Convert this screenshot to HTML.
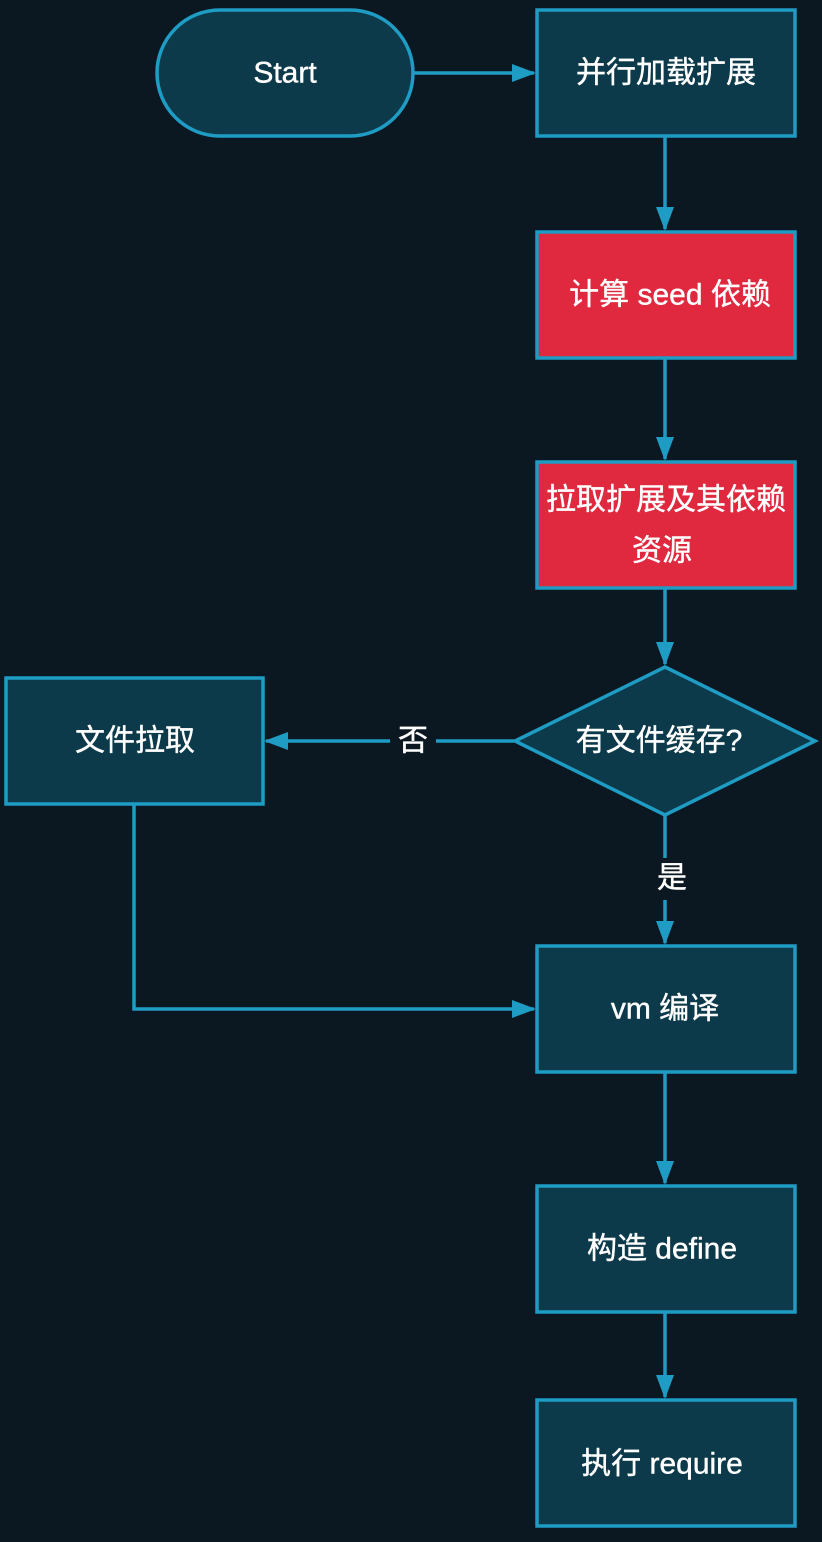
<!DOCTYPE html>
<html><head><meta charset="utf-8"><style>
html,body{margin:0;padding:0;background:#0b1822;}
</style></head><body>
<svg width="822" height="1537" viewBox="0 0 822 1537" xmlns="http://www.w3.org/2000/svg">
<rect width="822" height="1537" fill="#0b1822"/>
<defs>
<marker id="b" markerWidth="24" markerHeight="24" refX="22" refY="12" orient="auto" markerUnits="userSpaceOnUse" viewBox="0 0 24 24"><path d="M0,3 L24,12 L0,21 z" fill="#1e9cc4"/></marker></defs>
<g stroke="#1e9cc4" stroke-width="3.5" fill="none">
<line x1="414" y1="73" x2="534" y2="73" marker-end="url(#b)"/>
<line x1="665" y1="137" x2="665" y2="229" marker-end="url(#b)"/>
<line x1="665" y1="359" x2="665" y2="459" marker-end="url(#b)"/>
<line x1="665" y1="589" x2="665" y2="664" marker-end="url(#b)"/>
<line x1="514" y1="741" x2="266" y2="741" marker-end="url(#b)"/>
<line x1="665" y1="816" x2="665" y2="943" marker-end="url(#b)"/>
<polyline points="134,805 134,1009 534,1009" marker-end="url(#b)"/>
<line x1="665" y1="1073" x2="665" y2="1183" marker-end="url(#b)"/>
<line x1="665" y1="1313" x2="665" y2="1397" marker-end="url(#b)"/>
</g>
<rect x="390" y="722" width="46" height="38" fill="#0b1822"/>
<rect x="645" y="858" width="44" height="42" fill="#0b1822"/>
<g stroke="#1e9cc4" stroke-width="3.5">
<rect x="157" y="10" width="256" height="126" rx="63" fill="#0c3a4a"/>
<rect x="537" y="10" width="258" height="126" fill="#0c3a4a"/>
<rect x="537" y="232" width="258" height="126" fill="#e0283e"/>
<rect x="537" y="462" width="258" height="126" fill="#e0283e"/>
<polygon points="665,667 815,741 665,815 515,741" fill="#0c3a4a"/>
<rect x="6" y="678" width="257" height="126" fill="#0c3a4a"/>
<rect x="537" y="946" width="258" height="126" fill="#0c3a4a"/>
<rect x="537" y="1186" width="258" height="126" fill="#0c3a4a"/>
<rect x="537" y="1400" width="258" height="126" fill="#0c3a4a"/>
</g>
<g font-family="Liberation Sans, Noto Sans CJK SC, sans-serif" font-size="30" fill="#fff" text-anchor="middle" dominant-baseline="central" stroke="#fff" stroke-width="0.4">
<text x="285" y="73">Start</text>
<text x="666" y="73">并行加载扩展</text>
<text x="670" y="295">计算 seed 依赖</text>
<text x="666" y="500">拉取扩展及其依赖</text>
<text x="662" y="551">资源</text>
<text x="659" y="741">有文件缓存?</text>
<text x="135" y="741">文件拉取</text>
<text x="413" y="741">否</text>
<text x="672" y="878">是</text>
<text x="665" y="1009">vm 编译</text>
<text x="662" y="1249">构造 define</text>
<text x="662" y="1464">执行 require</text>
</g>
</svg>
</body></html>
